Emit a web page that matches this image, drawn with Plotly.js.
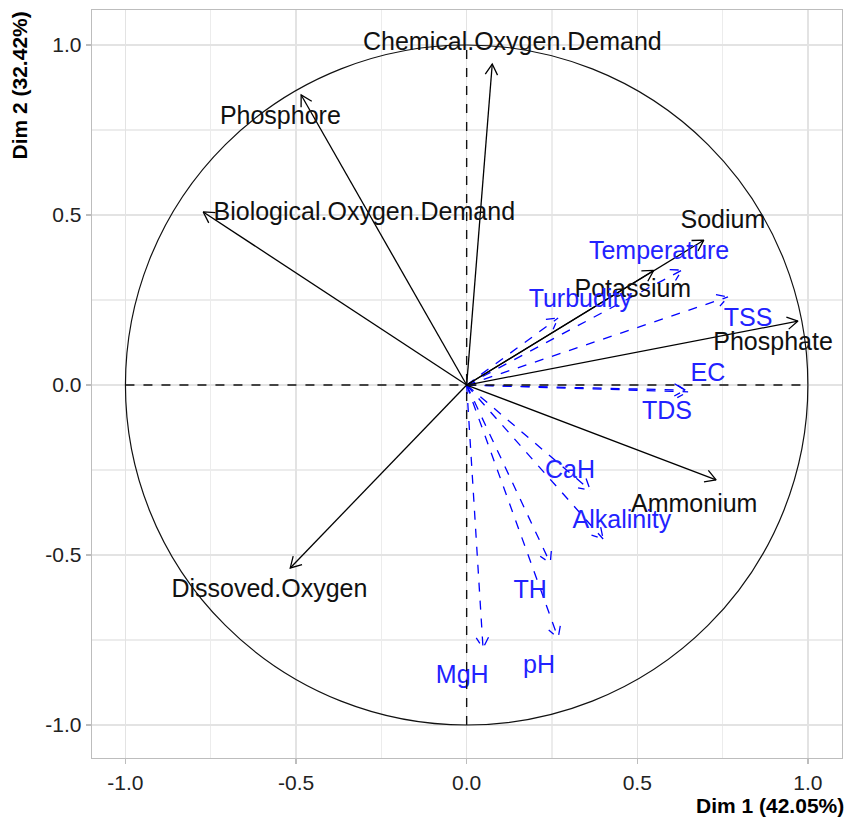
<!DOCTYPE html>
<html>
<head>
<meta charset="utf-8">
<script src="https://cdn.plot.ly/plotly-3.0.1.min.js"></script>
<style>html,body{margin:0;padding:0;background:#fff;}#chart{width:849px;height:820px;}</style>
</head>
<body>
<div id="chart"></div>
<script>
// Active variables (black, solid arrows)
const blackVars = ["Chemical.Oxygen.Demand","Phosphore","Biological.Oxygen.Demand","Sodium","Potassium","Phosphate","Ammonium","Dissoved.Oxygen"];
const blackDim1 = [0.075, -0.485, -0.772, 0.695, 0.548, 0.971, 0.731, -0.517];
const blackDim2 = [0.944, 0.853, 0.509, 0.426, 0.337, 0.188, -0.279, -0.538];
const blackLabelX = [0.134, -0.546, -0.30, 0.751, 0.487, 0.898, 0.667, -0.578];
const blackLabelY = [1.003, 0.785, 0.503, 0.479, 0.276, 0.121, -0.356, -0.606];

// Blue dashed variables
const blueVars = ["Temperature","Turbudity","TSS","EC","TDS","CaH","Alkalinity","TH","pH","MgH"];
const blueDim1 = [0.631, 0.268, 0.766, 0.649, 0.640, 0.362, 0.400, 0.245, 0.268, 0.048];
const blueDim2 = [0.338, 0.197, 0.259, -0.020, -0.015, -0.309, -0.453, -0.524, -0.744, -0.774];
const blueLabelX = [0.564, 0.333, 0.825, 0.707, 0.587, 0.303, 0.455, 0.186, 0.212, -0.013];
const blueLabelY = [0.388, 0.247, 0.191, 0.029, -0.082, -0.256, -0.403, -0.609, -0.829, -0.859];

const xTicks = [-1.0, -0.5, 0.0, 0.5, 1.0];
const yTicks = [-1.0, -0.5, 0.0, 0.5, 1.0];

function arrowPath(xs, ys){
  const X = [], Y = [];
  const L = 0.036, a = Math.PI/6;
  for (let i=0;i<xs.length;i++){
    const x = xs[i], y = ys[i];
    const th = Math.atan2(y, x);
    X.push(0, x, null);
    Y.push(0, y, null);
    X.push(x - L*Math.cos(th - a), x, x - L*Math.cos(th + a), null);
    Y.push(y - L*Math.sin(th - a), y, y - L*Math.sin(th + a), null);
  }
  return {X, Y};
}

const bp = arrowPath(blueDim1, blueDim2);
const kp = arrowPath(blackDim1, blackDim2);

const traces = [
  {x: bp.X, y: bp.Y, mode: 'lines', line: {color: '#0000FF', width: 1.3, dash: 'dash'}, hoverinfo: 'skip', showlegend: false},
  {x: kp.X, y: kp.Y, mode: 'lines', line: {color: '#000000', width: 1.3}, hoverinfo: 'skip', showlegend: false},
  {x: blackLabelX, y: blackLabelY, text: blackVars, mode: 'text', textposition: 'middle center',
   textfont: {family: 'Liberation Sans, Arial, sans-serif', size: 25, color: '#111111'}, hoverinfo: 'skip', showlegend: false},
  {x: blueLabelX, y: blueLabelY, text: blueVars, mode: 'text', textposition: 'middle center',
   textfont: {family: 'Liberation Sans, Arial, sans-serif', size: 25, color: '#2222FF'}, hoverinfo: 'skip', showlegend: false}
];

const axisCommon = {
  tickmode: 'array',
  showgrid: true, gridcolor: '#e3e3e3', gridwidth: 1.3,
  minor: {dtick: 0.25, tick0: 0, showgrid: true, gridcolor: '#ececec', gridwidth: 1.1},
  zeroline: false,
  showline: true, mirror: true, linecolor: '#bdbdbd', linewidth: 1.3,
  ticks: 'outside', ticklen: 5, tickcolor: '#bdbdbd', tickwidth: 1.3,
  tickfont: {family: 'Liberation Sans, Arial, sans-serif', size: 21, color: '#222222'},
  fixedrange: true
};

const layout = {
  width: 849, height: 820,
  margin: {l: 92, r: 7, t: 10, b: 62},
  paper_bgcolor: '#ffffff', plot_bgcolor: '#ffffff',
  xaxis: Object.assign({}, axisCommon, {range: [-1.098, 1.1], tickvals: xTicks, ticktext: xTicks.map(v => v.toFixed(1))}),
  yaxis: Object.assign({}, axisCommon, {range: [-1.097, 1.103], tickvals: yTicks, ticktext: yTicks.map(v => v.toFixed(1))}),
  shapes: [
    {type: 'circle', xref: 'x', yref: 'y', x0: -1, x1: 1, y0: -1, y1: 1, line: {color: '#111111', width: 1.2}},
    {type: 'line', xref: 'x', yref: 'y', x0: -1, x1: 1, y0: 0, y1: 0, line: {color: '#111111', width: 1.4, dash: 'dash'}},
    {type: 'line', xref: 'x', yref: 'y', x0: 0, x1: 0, y0: -1, y1: 1, line: {color: '#111111', width: 1.4, dash: 'dash'}}
  ],
  annotations: [
    {text: '<b>Dim 1 (42.05%)</b>', xref: 'paper', yref: 'paper', x: 1.005, y: -0.063, xanchor: 'right', yanchor: 'middle',
     showarrow: false, font: {family: 'Liberation Sans, Arial, sans-serif', size: 21, color: '#000'}},
    {text: '<b>Dim 2 (32.42%)</b>', xref: 'paper', yref: 'paper', x: -0.098, y: 1.0, xanchor: 'center', yanchor: 'top',
     textangle: -90, showarrow: false, font: {family: 'Liberation Sans, Arial, sans-serif', size: 21, color: '#000'}}
  ]
};

Plotly.newPlot('chart', traces, layout, {staticPlot: true, displayModeBar: false});
</script>
</body>
</html>
